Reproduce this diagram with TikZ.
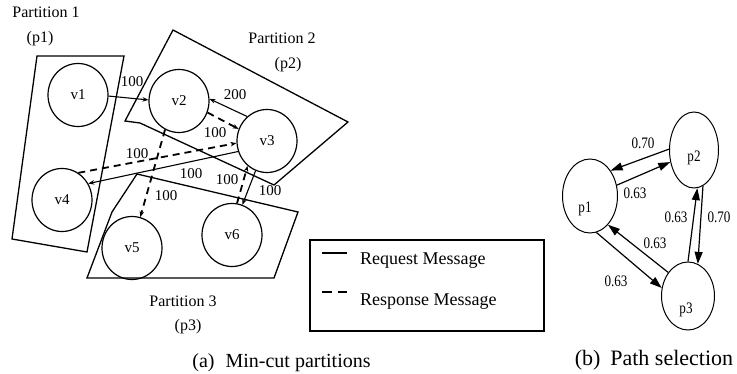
\documentclass[tikz,border=0pt]{standalone}
\usepackage{fontspec}
\usepackage{graphicx}
\setmainfont{Liberation Serif}
\usetikzlibrary{arrows.meta,shapes.geometric}
\newcommand{\nrw}[1]{\scalebox{0.82}[1]{#1}}
\begin{document}
\begin{tikzpicture}[x=1pt,y=-1pt,
  vnode/.style={draw,ellipse,minimum width=60pt,minimum height=63pt,inner sep=0pt,line width=1.2pt,font=\fontsize{15}{17}\selectfont},
  lbl/.style={font=\fontsize{15}{17}\selectfont,inner sep=0pt},
  ptitle/.style={font=\fontsize{16}{18}\selectfont,inner sep=0pt},
  part/.style={draw,line width=1.3pt,line join=miter},
  req/.style={line width=1.1pt,-{Stealth[length=6pt,width=4.5pt]}},
  resp/.style={line width=1.8pt,dash pattern=on 7pt off 5pt,-{Stealth[length=6pt,width=4.5pt]}},
  legtext/.style={font=\fontsize{18}{20}\selectfont,inner sep=0pt,anchor=base west},
  pnode/.style={draw,ellipse,inner sep=0pt,line width=1pt},
  ptext/.style={font=\fontsize{16}{18}\selectfont,inner sep=0pt},
  parr/.style={line width=1.2pt,-{Triangle[length=12pt,width=8pt]}},
  captext/.style={font=\fontsize{20}{22}\selectfont,inner sep=0pt,anchor=base}
]
\useasboundingbox (0,0) rectangle (737,374);

% partitions
\draw[part] (37,56) -- (124,56) -- (87,252) -- (12,239) -- cycle;
\draw[part] (173,30) -- (348,122) -- (274,185) -- (140,123) -- (125,121) -- cycle;
\draw[part] (137,174) -- (298,212) -- (274,278) -- (87,278) -- (112,212) -- cycle;

\node[ptitle] (pt1) at (46,12) {Partition 1};
\node[ptitle] (pp1) at (40,38.5) {(p1)};
\node[ptitle] (pt2) at (282,38) {Partition 2};
\node[ptitle] (pp2) at (288,65) {(p2)};
\node[ptitle] (pt3) at (183,301) {Partition 3};
\node[ptitle] (pp3) at (188,327) {(p3)};

% vertices
\node[vnode] (v1) at (78,95) {v1};
\node[vnode] (v2) at (179,101) {v2};
\node[vnode] (v3) at (267,141) {v3};
\node[vnode] (v4) at (62,200) {v4};
\node[vnode] (v5) at (132,248) {v5};
\node[vnode] (v6) at (232,235) {v6};

% messages
\draw[req] (v1.-2) -- (v2.178);
\draw[req] (v3.129) -- (v2.4);
\draw[resp] (v2.-22) -- (v3.157);
\draw[req] (v3.200) -- (v4.32);
\draw[resp] (v4.59) -- (v3.184);
\draw[resp] (v2.244) -- (v5.75);
\draw[req] (v3.249) -- (v6.71);
\draw[resp] (v6.81) -- (v3.232);

\node[lbl] (w12) at (132,82) {100};
\node[lbl] (w32) at (235,95) {200};
\node[lbl] (w23) at (215,133) {100};
\node[lbl] (w43) at (137,154) {100};
\node[lbl] (w34) at (191,174) {100};
\node[lbl] (w63) at (227,180) {100};
\node[lbl] (w36) at (270,191) {100};
\node[lbl] (w25) at (166,196) {100};

% legend
\node[draw,line width=1.3pt,minimum width=234pt,minimum height=91pt,inner sep=0pt] (leg) at (427,285.5) {};
\coordinate (ra) at (322,253);
\coordinate (rb) at (347,253);
\coordinate (sa) at (322,292);
\coordinate (sb) at (347,292);
\draw[line width=1.1pt] (ra) -- (rb);
\draw[line width=1.8pt,dash pattern=on 9.5pt off 6pt] (sa) -- (sb);
\node[legtext] (lreq) at (360,265) {Request Message};
\node[legtext] (lresp) at (360,306) {Response Message};

% path selection
\node[pnode,minimum width=55pt,minimum height=74pt] (p1) at (590,196) {};
\node[pnode,minimum width=49pt,minimum height=76pt] (p2) at (694,150) {};
\node[pnode,minimum width=53pt,minimum height=68pt] (p3) at (688,296) {};
\node[ptext] (tp1) at (585,209) {\nrw{p1}};
\node[ptext] (tp2) at (694,158) {\nrw{p2}};
\node[ptext] (tp3) at (686,310) {\nrw{p3}};

\draw[parr] (p2.178) -- (p1.51);
\draw[parr] (p1.22) -- (p2.207);
\draw[parr] (p3.90) -- (p2.275);
\draw[parr] (p2.284) -- (p3.73);
\draw[parr] (p3.130) -- (p1.302);
\draw[parr] (p1.280) -- (p3.163);

\node[ptext] (e21) at (643,143) {\nrw{0.70}};
\node[ptext] (e12) at (635,193) {\nrw{0.63}};
\node[ptext] (e32) at (676,217) {\nrw{0.63}};
\node[ptext] (e23) at (719,217) {\nrw{0.70}};
\node[ptext] (e31) at (655,243) {\nrw{0.63}};
\node[ptext] (e13) at (616,281) {\nrw{0.63}};

% captions
\node[captext] (capa) at (281.5,367) {(a)\hspace{0.55em}Min-cut partitions};
\node[captext,font=\fontsize{22}{24}\selectfont] (capb) at (654,366) {(b)\hspace{0.45em}Path selection};
\end{tikzpicture}
\end{document}
